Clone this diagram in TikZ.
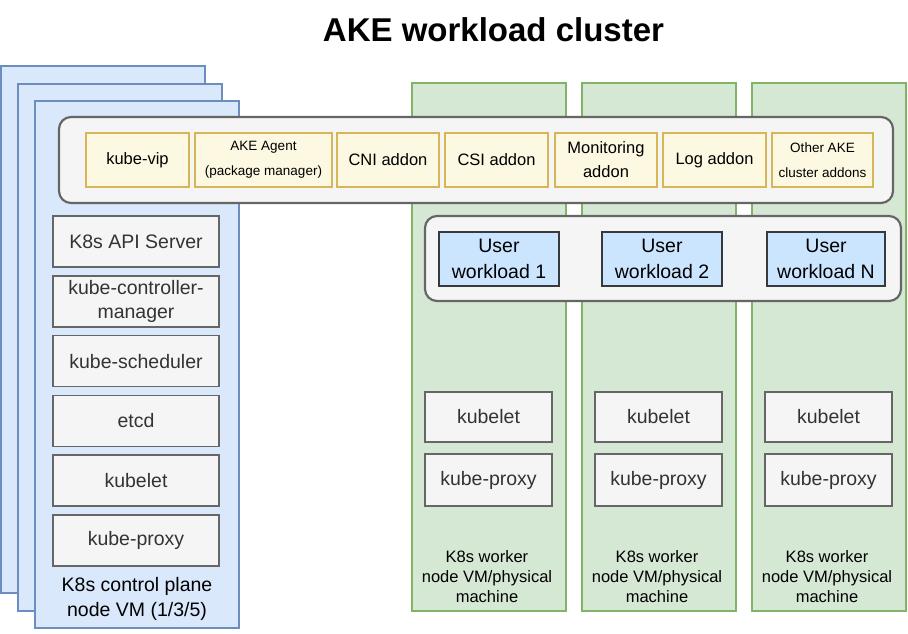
\documentclass[tikz,border=0pt]{standalone}
\usepackage{fontspec}
\setmainfont{Liberation Sans}
\usetikzlibrary{positioning}
\definecolor{akeblue}{HTML}{DAE8FC}
\definecolor{akeblueline}{HTML}{6C8EBF}
\definecolor{akegreen}{HTML}{D5E8D4}
\definecolor{akegreenline}{HTML}{82B366}
\definecolor{akeyellow}{HTML}{FDF8E1}
\definecolor{akeyellowline}{HTML}{D6B656}
\definecolor{akegrey}{HTML}{F5F5F5}
\definecolor{akegreyline}{HTML}{666666}
\definecolor{akegreytext}{HTML}{333333}
\definecolor{akewl}{HTML}{CCE5FF}
\definecolor{akewlline}{HTML}{36393D}
\tikzset{
  title/.style={font=\fontsize{33}{40}\selectfont\bfseries,inner sep=0pt},
  vmplane/.style={draw=akeblueline,fill=akeblue,line width=1.5pt,anchor=north west,
                  minimum width=204pt,minimum height=527pt,inner sep=0pt,outer sep=0pt},
  workerplane/.style={draw=akegreenline,fill=akegreen,line width=1.5pt,anchor=north west,
                  minimum width=154pt,minimum height=528pt,inner sep=0pt,outer sep=0pt},
  comp/.style={draw=akegreyline,fill=akegrey,line width=1.5pt,text=akegreytext,
               minimum width=166pt,minimum height=51pt,inner sep=0pt,outer sep=0pt,
               align=center,font=\fontsize{19.5}{24}\selectfont},
  group/.style={draw=akegreyline,fill=akegrey,line width=2.2pt,rounded corners=12pt,
                anchor=north west,inner sep=0pt,outer sep=0pt},
  addon/.style={draw=akeyellowline,fill=akeyellow,line width=1.5pt,anchor=north west,
                minimum height=54pt,inner sep=0pt,outer sep=0pt,align=center,
                font=\fontsize{16.5}{24}\selectfont},
  addonsmall/.style={addon,font=\fontsize{13.5}{25}\selectfont},
  workload/.style={draw=akewlline,fill=akewl,line width=1.5pt,anchor=north west,
                   minimum height=54pt,inner sep=0pt,outer sep=0pt,align=center,
                   font=\fontsize{19.5}{26}\selectfont},
  wlabel/.style={align=center,inner sep=0pt,font=\fontsize{16.5}{20}\selectfont},
  planelbl/.style={align=center,inner sep=0pt,font=\fontsize{19.5}{24.5}\selectfont},
}
\begin{document}
\begin{tikzpicture}[x=1pt,y=-1pt]
  \useasboundingbox (0,0) rectangle (908,633);
  \node[title,anchor=base] (title) at (493.5,41) {AKE workload cluster};

  % control plane VMs, stacked
  \node[vmplane] (cp3) at (1,66) {};
  \node[vmplane] (cp2) at (18,84) {};

  % worker nodes
  \foreach \i/\x in {1/412,2/582,3/752}{
    \node[workerplane] (w\i) at (\x,83) {};
    \node[comp,anchor=north west,minimum width=127pt,minimum height=50pt] (kubelet\i)
      at (\x+13,392) {kubelet};
    \node[comp,minimum width=127pt,minimum height=52pt,below=12pt of kubelet\i] (proxy\i)
      {kube-proxy};
    \node[wlabel] (wlbl\i) at (\x+75,576.5) {K8s worker\\node VM/physical\\machine};
  }

  \node[vmplane] (cp1) at (35,101) {};
  \node[comp,anchor=north west] (api) at (53,216) {K8s API Server};
  \node[comp,below=8.8pt of api] (kcm) {kube-controller-\\manager};
  \node[comp,below=8.8pt of kcm] (sched) {kube-scheduler};
  \node[comp,below=8.8pt of sched] (etcd) {etcd};
  \node[comp,below=8.8pt of etcd] (cpkubelet) {kubelet};
  \node[comp,below=8.8pt of cpkubelet] (cpproxy) {kube-proxy};
  \node[planelbl] (cplbl) at (137,599) {K8s control plane\\node VM (1/3/5)};

  % addons running across the cluster
  \node[group,minimum width=834pt,minimum height=86pt] (addons) at (59,117) {};
  \node[addon,minimum width=103pt] (vip) at (86,133) {kube-vip};
  \node[addonsmall,minimum width=137pt] (agent) at (195,133) {AKE Agent\\(package manager)};
  \node[addon,minimum width=102pt] (cni) at (337,133) {CNI addon};
  \node[addon,minimum width=103pt] (csi) at (445,133) {CSI addon};
  \node[addon,minimum width=102pt] (mon) at (555,133) {Monitoring\\addon};
  \node[addon,minimum width=103pt] (log) at (663,133) {Log addon};
  \node[addonsmall,minimum width=101pt] (other) at (772,133) {Other AKE\\cluster addons};

  % user workloads on the workers
  \node[group,minimum width=476pt,minimum height=85pt] (userwl) at (425,216) {};
  \node[workload,minimum width=120pt] (uw1) at (439,232) {User\\workload 1};
  \node[workload,minimum width=120pt] (uw2) at (602,232) {User\\workload 2};
  \node[workload,minimum width=118pt] (uwn) at (767,232) {User\\workload N};
\end{tikzpicture}
\end{document}
